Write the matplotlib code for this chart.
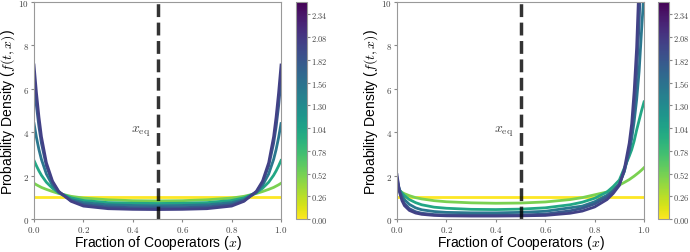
import numpy as np
import matplotlib
matplotlib.use('Agg')
import matplotlib.pyplot as plt
from matplotlib.ticker import FuncFormatter

plt.rcParams['mathtext.fontset'] = 'cm'
plt.rcParams['font.family'] = ['Liberation Sans', 'DejaVu Sans']

# times of the plotted snapshots (colour scale)
times = [0.0, 0.5, 1.0, 1.5, 1.8, 2.0]
cbar_ticks = [0.00, 0.26, 0.52, 0.78, 1.04, 1.30, 1.56, 1.82, 2.08, 2.34]
t_max = 2.48
x_eq = 0.5

# left panel: symmetric case
x_left = [0, .01, .02, .03, .05, .075, .1, .15, .2, .3, .4, .5,
          .6, .7, .8, .85, .9, .925, .95, .97, .98, .99, 1]
left_t0 = [1.0] * len(x_left)
left_t1 = [1.65, 1.58, 1.52, 1.46, 1.37, 1.27, 1.18, 1.05, 0.97, 0.89, 0.85, 0.84,
           0.85, 0.89, 0.97, 1.05, 1.18, 1.27, 1.37, 1.46, 1.52, 1.58, 1.65]
left_t2 = [2.7, 2.45, 2.22, 2.02, 1.7, 1.42, 1.22, 0.98, 0.86, 0.76, 0.73, 0.72,
           0.73, 0.76, 0.86, 0.98, 1.22, 1.42, 1.7, 2.02, 2.22, 2.45, 2.7]
left_t3 = [4.4, 3.75, 3.2, 2.75, 2.08, 1.55, 1.22, 0.9, 0.76, 0.66, 0.63, 0.62,
           0.63, 0.66, 0.76, 0.9, 1.22, 1.55, 2.08, 2.75, 3.2, 3.75, 4.4]
left_t4 = [6.4, 5.2, 4.25, 3.5, 2.45, 1.68, 1.25, 0.85, 0.67, 0.56, 0.53, 0.52,
           0.53, 0.56, 0.67, 0.85, 1.25, 1.68, 2.45, 3.5, 4.25, 5.2, 6.4]
left_t5 = [7.1, 5.8, 4.7, 3.8, 2.6, 1.75, 1.28, 0.82, 0.6, 0.48, 0.45, 0.44,
           0.45, 0.48, 0.6, 0.82, 1.28, 1.75, 2.6, 3.8, 4.7, 5.8, 7.1]

# right panel: asymmetric case
x_right = [0, .01, .02, .03, .05, .075, .1, .15, .2, .3, .4, .5, .6, .7, .75,
           .8, .85, .875, .9, .92, .94, .95, .96, .97, .98, .99, 1]
right_t0 = [1.0] * len(x_right)
right_t1 = [1.38, 1.3, 1.23, 1.17, 1.08, 0.99, 0.93, 0.85, 0.8, 0.75, 0.73, 0.74, 0.79, 0.9, 0.99,
            1.12, 1.25, 1.4, 1.57, 1.69, 1.82, 1.9, 1.98, 2.07, 2.16, 2.26, 2.37]
right_t2 = [1.55, 1.35, 1.2, 1.08, 0.9, 0.76, 0.66, 0.55, 0.5, 0.45, 0.44, 0.46, 0.52, 0.66, 0.78,
            0.96, 1.25, 1.5, 1.8, 2.35, 2.9, 3.2, 3.6, 4.1, 4.55, 5.0, 5.4]
right_t3 = [1.75, 1.35, 1.08, 0.9, 0.68, 0.52, 0.43, 0.35, 0.31, 0.29, 0.29, 0.31, 0.36, 0.52, 0.6,
            0.8, 1.1, 1.32, 1.6, 2.2, 3.1, 3.7, 4.5, 5.5, 6.8, 8.7, 10.5]
right_t4 = [1.9, 1.3, 0.95, 0.72, 0.48, 0.34, 0.27, 0.21, 0.19, 0.18, 0.18, 0.19, 0.23, 0.38, 0.5,
            0.7, 1.02, 1.28, 1.62, 2.2, 3.2, 4.0, 5.1, 6.7, 9.0, 12.5, 16]
right_t5 = [2.05, 1.25, 0.85, 0.62, 0.4, 0.28, 0.22, 0.17, 0.15, 0.14, 0.14, 0.15, 0.17, 0.27, 0.37,
            0.56, 0.9, 1.18, 1.55, 2.3, 3.5, 4.4, 5.9, 7.9, 11, 16, 22]

left_curves = [left_t0, left_t1, left_t2, left_t3, left_t4, left_t5]
right_curves = [right_t0, right_t1, right_t2, right_t3, right_t4, right_t5]

cmap = plt.get_cmap('viridis_r')
norm = plt.Normalize(0, t_max)

fig = plt.figure(figsize=(6.9, 2.53), dpi=100)
bottom, height = 0.13, 0.858
panels = [([0.0493, bottom, 0.358, height], [0.429, bottom, 0.016, height], x_left, left_curves),
          ([0.5754, bottom, 0.358, height], [0.953, bottom, 0.016, height], x_right, right_curves)]

for ax_rect, cb_rect, xs, curves in panels:
    ax = fig.add_axes(ax_rect)
    for t, ys in zip(times, curves):
        ax.plot(xs, ys, color=cmap(norm(t)), lw=2)
    ax.axvline(x_eq, color='k', ls='--', lw=2.5, alpha=0.8)
    ax.text(x_eq - 0.03, 4.05, r'$x_{\rm eq}$', ha='right', va='center',
            fontsize=10, color='#444444')
    ax.set_xlim(0, 1)
    ax.set_ylim(0, 10)
    ax.set_xticks([0, 0.2, 0.4, 0.6, 0.8, 1.0])
    ax.set_yticks([0, 2, 4, 6, 8, 10])
    ax.xaxis.set_major_formatter(FuncFormatter(lambda v, p: f'${v:.1f}$'))
    ax.yaxis.set_major_formatter(FuncFormatter(lambda v, p: f'${v:.0f}$'))
    ax.tick_params(labelsize=6.5, length=2, color='#888888', labelcolor='#444444', pad=1.5)
    for s in ax.spines.values():
        s.set_color('#999999')
    ax.set_xlabel(r'Fraction of Cooperators ($x$)', fontsize=10, labelpad=-0.5)
    ax.set_ylabel(r'Probability Density ($f(t,x)$)', fontsize=10, labelpad=1)

    cax = fig.add_axes(cb_rect)
    sm = plt.cm.ScalarMappable(norm=norm, cmap=cmap)
    cb = fig.colorbar(sm, cax=cax, ticks=cbar_ticks)
    cb.ax.yaxis.set_major_formatter(FuncFormatter(lambda v, p: f'${v:.2f}$'))
    cb.ax.tick_params(labelsize=6, length=2, color='#888888', labelcolor='#444444', pad=1)
    cb.outline.set_edgecolor('#999999')

fig.savefig('out.png', dpi=100)
